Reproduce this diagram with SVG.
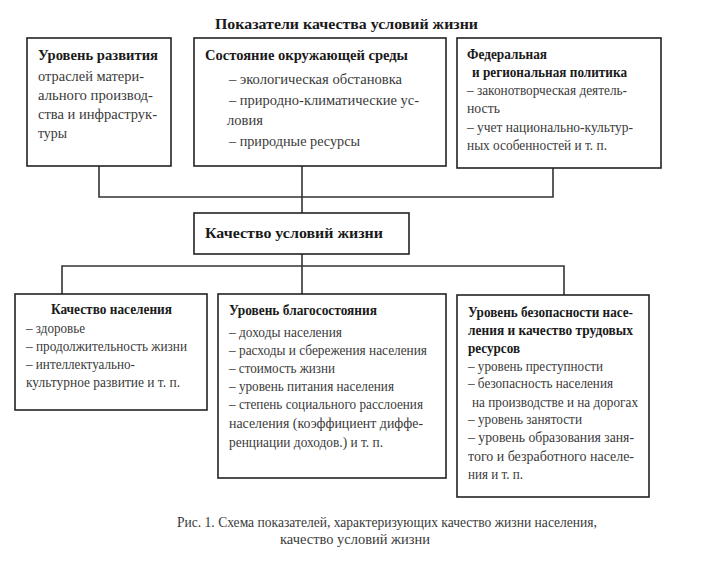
<svg xmlns="http://www.w3.org/2000/svg" width="702" height="565" viewBox="0 0 702 565">
<style>
.box{fill:#fff;stroke:#222;stroke-width:1.6}
.t{font-family:"Liberation Serif","DejaVu Serif",serif;font-size:15px;font-weight:normal;fill:#3a3a3a}
.b{font-family:"Liberation Serif","DejaVu Serif",serif;font-size:15px;font-weight:bold;fill:#1a1a1a}
.c{stroke:#333;stroke-width:1.6;fill:none}
</style>
<rect width="702" height="565" fill="#fff"/>
<text class="b" x="215" y="29" font-size="16.5" textLength="263" lengthAdjust="spacingAndGlyphs">Показатели качества условий жизни</text>
<g id="connectors">
<path class="c" d="M99 166V197H553V168"/>
<path class="c" d="M302 166V213"/>
<path class="c" d="M302 254V294"/>
<path class="c" d="M62 294V266H564V296"/>
</g>
<g id="n1">
<rect class="box" x="27" y="38" width="144" height="128"/>
<text class="b" x="38" y="60" textLength="120" lengthAdjust="spacingAndGlyphs">Уровень развития</text>
<text class="t" x="38" y="81" textLength="106" lengthAdjust="spacingAndGlyphs">отраслей матери-</text>
<text class="t" x="38" y="100" textLength="115" lengthAdjust="spacingAndGlyphs">ального производ-</text>
<text class="t" x="38" y="119" textLength="119" lengthAdjust="spacingAndGlyphs">ства и инфраструк-</text>
<text class="t" x="38" y="138" textLength="29" lengthAdjust="spacingAndGlyphs">туры</text>
</g>
<g id="n2">
<rect class="box" x="194" y="38" width="252" height="128"/>
<text class="b" x="205" y="60" textLength="203" lengthAdjust="spacingAndGlyphs">Состояние окружающей среды</text>
<text class="t" x="229" y="84" textLength="173" lengthAdjust="spacingAndGlyphs">– экологическая обстановка</text>
<text class="t" x="229" y="105" textLength="190" lengthAdjust="spacingAndGlyphs">– природно-климатические ус-</text>
<text class="t" x="227" y="125" textLength="36" lengthAdjust="spacingAndGlyphs">ловия</text>
<text class="t" x="229" y="146" textLength="131" lengthAdjust="spacingAndGlyphs">– природные ресурсы</text>
</g>
<g id="n3">
<rect class="box" x="457" y="38" width="204" height="130"/>
<text class="b" x="467" y="59" textLength="80" lengthAdjust="spacingAndGlyphs">Федеральная</text>
<text class="b" x="472" y="77" textLength="155" lengthAdjust="spacingAndGlyphs">и региональная политика</text>
<text class="t" x="467" y="95" textLength="160" lengthAdjust="spacingAndGlyphs">– законотворческая деятель-</text>
<text class="t" x="467" y="113" textLength="33" lengthAdjust="spacingAndGlyphs">ность</text>
<text class="t" x="467" y="132" textLength="166" lengthAdjust="spacingAndGlyphs">– учет национально-культур-</text>
<text class="t" x="467" y="150" textLength="140" lengthAdjust="spacingAndGlyphs">ных особенностей и т. п.</text>
</g>
<g id="center">
<rect class="box" x="194" y="213" width="215" height="41"/>
<text class="b" x="205" y="238" font-size="17.5" textLength="178" lengthAdjust="spacingAndGlyphs">Качество условий жизни</text>
</g>
<g id="n4">
<rect class="box" x="15" y="294" width="192" height="116"/>
<text class="b" x="51" y="314" textLength="121" lengthAdjust="spacingAndGlyphs">Качество населения</text>
<text class="t" x="26" y="333" textLength="59" lengthAdjust="spacingAndGlyphs">– здоровье</text>
<text class="t" x="26" y="351" textLength="161" lengthAdjust="spacingAndGlyphs">– продолжительность жизни</text>
<text class="t" x="26" y="369" textLength="109" lengthAdjust="spacingAndGlyphs">– интеллектуально-</text>
<text class="t" x="26" y="387" textLength="154" lengthAdjust="spacingAndGlyphs">культурное развитие и т. п.</text>
</g>
<g id="n5">
<rect class="box" x="218" y="294" width="228" height="184"/>
<text class="b" x="229" y="315" textLength="148" lengthAdjust="spacingAndGlyphs">Уровень благосостояния</text>
<text class="t" x="229" y="337" textLength="113" lengthAdjust="spacingAndGlyphs">– доходы населения</text>
<text class="t" x="229" y="355" textLength="198" lengthAdjust="spacingAndGlyphs">– расходы и сбережения населения</text>
<text class="t" x="229" y="373" textLength="106" lengthAdjust="spacingAndGlyphs">– стоимость жизни</text>
<text class="t" x="229" y="391" textLength="165" lengthAdjust="spacingAndGlyphs">– уровень питания населения</text>
<text class="t" x="229" y="409" textLength="194" lengthAdjust="spacingAndGlyphs">– степень социального расслоения</text>
<text class="t" x="229" y="428" textLength="194" lengthAdjust="spacingAndGlyphs">населения (коэффициент диффе-</text>
<text class="t" x="229" y="447" textLength="154" lengthAdjust="spacingAndGlyphs">ренциации доходов.) и т. п.</text>
</g>
<g id="n6">
<rect class="box" x="457" y="295" width="192" height="202"/>
<text class="b" x="468" y="317" textLength="165" lengthAdjust="spacingAndGlyphs">Уровень безопасности насе-</text>
<text class="b" x="468" y="335" textLength="165" lengthAdjust="spacingAndGlyphs">ления и качество трудовых</text>
<text class="b" x="468" y="353" textLength="52" lengthAdjust="spacingAndGlyphs">ресурсов</text>
<text class="t" x="468" y="371" textLength="135" lengthAdjust="spacingAndGlyphs">– уровень преступности</text>
<text class="t" x="468" y="388" textLength="145" lengthAdjust="spacingAndGlyphs">– безопасность населения</text>
<text class="t" x="472" y="407" textLength="166" lengthAdjust="spacingAndGlyphs">на производстве и на дорогах</text>
<text class="t" x="468" y="424" textLength="114" lengthAdjust="spacingAndGlyphs">– уровень занятости</text>
<text class="t" x="468" y="442" textLength="166" lengthAdjust="spacingAndGlyphs">– уровень образования заня-</text>
<text class="t" x="468" y="461" textLength="166" lengthAdjust="spacingAndGlyphs">того и безработного населе-</text>
<text class="t" x="468" y="479" textLength="55" lengthAdjust="spacingAndGlyphs">ния и т. п.</text>
</g>
<text class="t" x="177" y="527" textLength="420" lengthAdjust="spacingAndGlyphs">Рис. 1. Схема показателей, характеризующих качество жизни населения,</text>
<text class="t" x="280" y="544" textLength="150" lengthAdjust="spacingAndGlyphs">качество условий жизни</text>
</svg>
